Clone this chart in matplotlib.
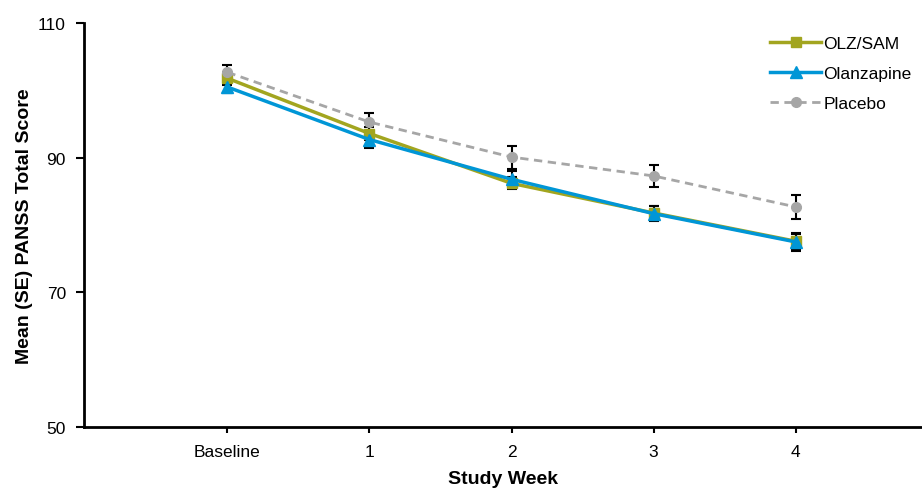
import numpy as np
import matplotlib.pyplot as plt

plt.rcParams['font.family'] = ['Liberation Sans', 'DejaVu Sans']

# Данные
weeks = ['Baseline', '1', '2', '3', '4']
olz_sam = [101.8, 93.6, 86.2, 81.8, 77.6]
olz_sam_se = [1.0, 1.0, 0.9, 1.0, 1.1]
olanzapine = [100.5, 92.7, 86.8, 81.7, 77.5]
olanzapine_se = [0.9, 1.2, 1.2, 1.1, 1.3]
placebo = [102.7, 95.3, 90.1, 87.3, 82.7]
placebo_se = [1.1, 1.4, 1.7, 1.6, 1.8]

x = np.arange(len(weeks))

fig = plt.figure(figsize=(9.22, 4.89), dpi=100)
ax = fig.add_axes([0.0911, 0.1247, 0.9089, 0.826])

# Планки погрешностей (SE)
for vals, se in [(placebo, placebo_se), (olz_sam, olz_sam_se), (olanzapine, olanzapine_se)]:
    ax.errorbar(x, vals, yerr=se, fmt='none', ecolor='black', elinewidth=1.5,
                capsize=3.5, capthick=1.5, zorder=2)

ax.plot(x, olz_sam, color='#A2A51F', lw=2.5, marker='s', ms=7, label='OLZ/SAM', zorder=3)
ax.plot(x, olanzapine, color='#0096D6', lw=2.5, marker='^', ms=8, label='Olanzapine', zorder=4)
ax.plot(x, placebo, color='#A6A6A6', lw=2, ls=(0, (3, 2)), marker='o', ms=7,
        label='Placebo', zorder=3)

ax.set_xlim(-1.01, 4.89)
ax.set_ylim(50, 110)
ax.set_yticks([50, 70, 90, 110])
ax.set_xticks(x)
ax.set_xticklabels(weeks)
ax.tick_params(labelsize=12.5, width=1.5, length=5, color='black')
ax.tick_params(axis='y', length=6, pad=7)
ax.tick_params(axis='x', length=4, pad=8)

for s in ['top', 'right']:
    ax.spines[s].set_visible(False)
for s in ['left', 'bottom']:
    ax.spines[s].set_linewidth(2)

ax.set_xlabel('Study Week', fontsize=14, fontweight='bold', labelpad=8.5)
ax.set_ylabel('Mean (SE) PANSS Total Score', fontsize=14, fontweight='bold', labelpad=4)

ax.legend(loc='upper right', bbox_to_anchor=(1.0, 0.995), frameon=False, fontsize=12.5,
          handlelength=2.9, handletextpad=0.15, labelspacing=0.86, borderaxespad=0.2)

fig.savefig('out.png', dpi=100)
